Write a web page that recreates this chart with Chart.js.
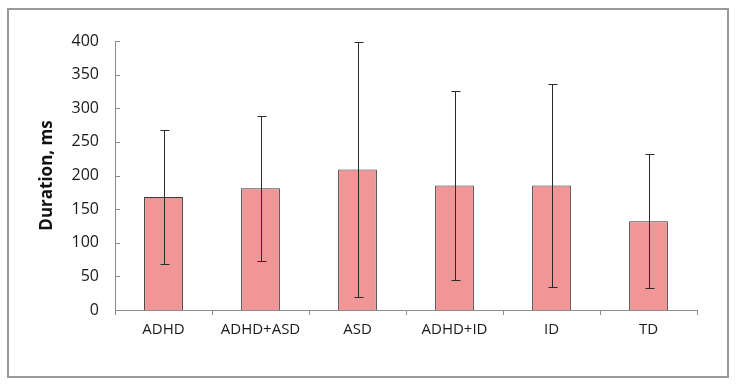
<!DOCTYPE html>
<html>
<head>
<meta charset="utf-8">
<script src="https://cdn.jsdelivr.net/npm/chart.js@4.4.1/dist/chart.umd.min.js"></script>
<style>
  html, body { margin: 0; padding: 0; background: #fff; }
  #wrap { position: relative; width: 736px; height: 388px; }
</style>
</head>
<body>
<div id="wrap"><canvas id="chart" width="736" height="388"></canvas></div>
<script>
// data
var groups = ['ADHD', 'ADHD+ASD', 'ASD', 'ADHD+ID', 'ID', 'TD'];
var meanDuration = [168, 181, 209, 185, 185, 132];
var sdDuration = [99, 108, 189, 141, 151, 100];
var yTicks = [0, 50, 100, 150, 200, 250, 300, 350, 400];

var axisColor = '#8c8c8c';
var fontFamily = "'Open Sans', 'Noto Sans', sans-serif";

// outer frame around the whole chart
var framePlugin = {
  id: 'frame',
  beforeDraw: function (chart) {
    var ctx = chart.ctx;
    ctx.save();
    ctx.fillStyle = '#fff';
    ctx.fillRect(0, 0, chart.width, chart.height);
    ctx.strokeStyle = '#9a9a9a';
    ctx.lineWidth = 2;
    ctx.strokeRect(8, 9, 720, 368);
    ctx.restore();
  }
};

// y ticks pointing into the plot, like the source
var innerTicksPlugin = {
  id: 'innerTicks',
  afterDraw: function (chart) {
    var y = chart.scales.y;
    var ctx = chart.ctx;
    ctx.save();
    ctx.strokeStyle = axisColor;
    ctx.lineWidth = 1;
    yTicks.forEach(function (v) {
      var py = Math.round(y.getPixelForValue(v)) + 0.5;
      ctx.beginPath();
      ctx.moveTo(y.right, py);
      ctx.lineTo(y.right + 5, py);
      ctx.stroke();
    });
    ctx.restore();
  }
};

// standard deviation whiskers
var errorBarPlugin = {
  id: 'errorBars',
  afterDatasetsDraw: function (chart) {
    var ctx = chart.ctx;
    var y = chart.scales.y;
    var bars = chart.getDatasetMeta(0).data;
    ctx.save();
    ctx.strokeStyle = '#2b2b2b';
    ctx.lineWidth = 1;
    bars.forEach(function (bar, i) {
      var x = Math.round(bar.x) + 0.5;
      var top = Math.round(y.getPixelForValue(meanDuration[i] + sdDuration[i])) + 0.5;
      var bottom = Math.round(y.getPixelForValue(meanDuration[i] - sdDuration[i])) + 0.5;
      ctx.beginPath();
      ctx.moveTo(x, top);
      ctx.lineTo(x, bottom);
      ctx.moveTo(x - 4, top);
      ctx.lineTo(x + 5, top);
      ctx.moveTo(x - 4, bottom);
      ctx.lineTo(x + 5, bottom);
      ctx.stroke();
    });
    ctx.restore();
  }
};

new Chart(document.getElementById('chart').getContext('2d'), {
  type: 'bar',
  data: {
    labels: groups,
    datasets: [{
      data: meanDuration,
      backgroundColor: '#f09696',
      borderColor: '#3a3a3a',
      borderWidth: 1,
      categoryPercentage: 1,
      barPercentage: 0.4
    }]
  },
  options: {
    responsive: false,
    animation: false,
    layout: { padding: { left: 35, top: 41, right: 39, bottom: 0 } },
    plugins: { legend: { display: false }, tooltip: { enabled: false } },
    scales: {
      x: {
        grid: { display: true, drawOnChartArea: false, drawTicks: true, tickLength: 5, color: axisColor, offset: true },
        border: { display: true, color: axisColor, width: 1 },
        ticks: { color: '#1a1a1a', font: { family: fontFamily, size: 15 }, padding: 6, maxRotation: 0 },
        afterFit: function (scale) { scale.height = 78; }
      },
      y: {
        min: 0,
        max: 400,
        afterBuildTicks: function (scale) {
          scale.ticks = yTicks.map(function (v) { return { value: v }; });
        },
        grid: { display: false, drawTicks: false },
        border: { display: true, color: axisColor, width: 1 },
        ticks: { color: '#1a1a1a', font: { family: fontFamily, size: 16 }, padding: 16 },
        title: {
          display: true,
          text: 'Duration, ms',
          color: '#111',
          font: { family: fontFamily, size: 17, weight: 'bold' },
          padding: 2
        },
        afterFit: function (scale) { scale.width = 80; }
      }
    }
  },
  plugins: [framePlugin, innerTicksPlugin, errorBarPlugin]
});
</script>
</body>
</html>
